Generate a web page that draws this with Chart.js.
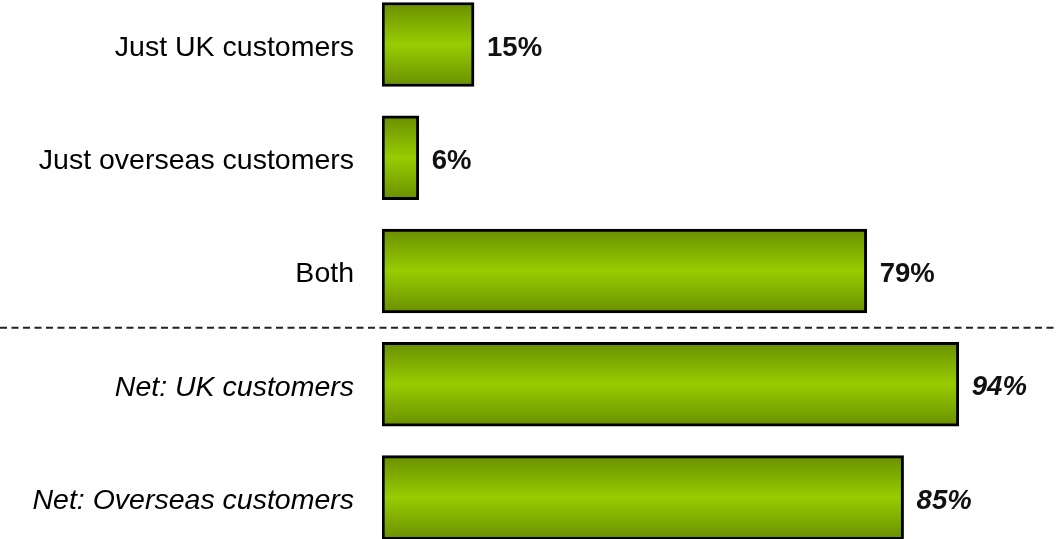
<!DOCTYPE html>
<html>
<head>
<meta charset="utf-8">
<script src="https://cdn.jsdelivr.net/npm/chart.js@4"></script>
<style>
    html, body { margin: 0; padding: 0; background: #fff; }
    #wrap { width: 1057px; height: 539px; }
</style>
</head>
<body>
<div id="wrap"><canvas id="chartCustomers"></canvas></div>
<script>
const categories = [
    'Just UK customers',
    'Just overseas customers',
    'Both',
    'Net: UK customers',
    'Net: Overseas customers',
];
const shares = [15, 6, 79, 94, 85];
const netFrom = 3; // rows from here on are the "Net" summaries
const fontFamily = '"Liberation Sans", Arial, sans-serif';

function barGradient(ctx) {
    const chart = ctx.chart;
    const yScale = chart.scales.y;
    if (!yScale || ctx.dataIndex === undefined) return '#99cc00';
    const mid = yScale.getPixelForValue(ctx.dataIndex);
    if (!isFinite(mid)) return '#99cc00';
    const g = chart.ctx.createLinearGradient(0, mid - 42, 0, mid + 42);
    g.addColorStop(0, '#698f00');
    g.addColorStop(0.5, '#99cc00');
    g.addColorStop(1, '#698f00');
    return g;
}

// dashed separator between the single answers and the net rows
const separator = {
    id: 'separator',
    afterDatasetsDraw(chart) {
        const y = chart.scales.y.getPixelForValue(netFrom - 0.5);
        const c = chart.ctx;
        c.save();
        c.strokeStyle = '#222';
        c.lineWidth = 2;
        c.setLineDash([7, 4.5]);
        c.beginPath();
        c.moveTo(0, y);
        c.lineTo(chart.width, y);
        c.stroke();
        c.restore();
    },
};

// percentage printed just past the end of each bar
const valueLabels = {
    id: 'valueLabels',
    afterDatasetsDraw(chart) {
        const c = chart.ctx;
        const meta = chart.getDatasetMeta(0);
        c.save();
        c.fillStyle = '#111';
        c.textAlign = 'left';
        c.textBaseline = 'middle';
        meta.data.forEach(function (bar, i) {
            c.font = (i >= netFrom ? 'italic ' : '') + 'bold 27.5px ' + fontFamily;
            c.fillText(shares[i] + '%', bar.x + 13, bar.y + 3.5);
        });
        c.restore();
    },
};

new Chart(document.getElementById('chartCustomers'), {
    type: 'bar',
    data: {
        datasets: [{
            data: shares.map((v, i) => ({ x: v, y: i })),
            backgroundColor: barGradient,
            borderColor: '#000',
            borderWidth: 3,
            borderSkipped: false,
            barThickness: 84,
        }],
    },
    options: {
        indexAxis: 'y',
        responsive: true,
        maintainAspectRatio: false,
        animation: false,
        layout: { padding: 0 },
        plugins: {
            legend: { display: false },
            tooltip: { enabled: false },
        },
        scales: {
            x: {
                type: 'linear',
                min: 0,
                max: 110,
                display: false,
            },
            y: {
                type: 'linear',
                reverse: true,
                offset: false,
                min: -0.393,
                max: 4.366,
                border: { display: false },
                grid: { display: false, drawTicks: false, offset: false },
                ticks: {
                    padding: 28,
                    labelOffset: 3.5,
                    color: '#000',
                    font: (ctx) => ({
                        family: fontFamily,
                        size: 28.5,
                        style: ctx.tick && ctx.tick.value >= netFrom ? 'italic' : 'normal',
                    }),
                    callback: (value) => categories[value] ?? '',
                },
                afterBuildTicks(scale) {
                    scale.ticks = categories.map((_, i) => ({ value: i }));
                },
                afterFit(scale) {
                    scale.width = 382;
                    scale.paddingTop = 0;
                    scale.paddingBottom = 0;
                },
            },
        },
    },
    plugins: [separator, valueLabels],
});
</script>
</body>
</html>
